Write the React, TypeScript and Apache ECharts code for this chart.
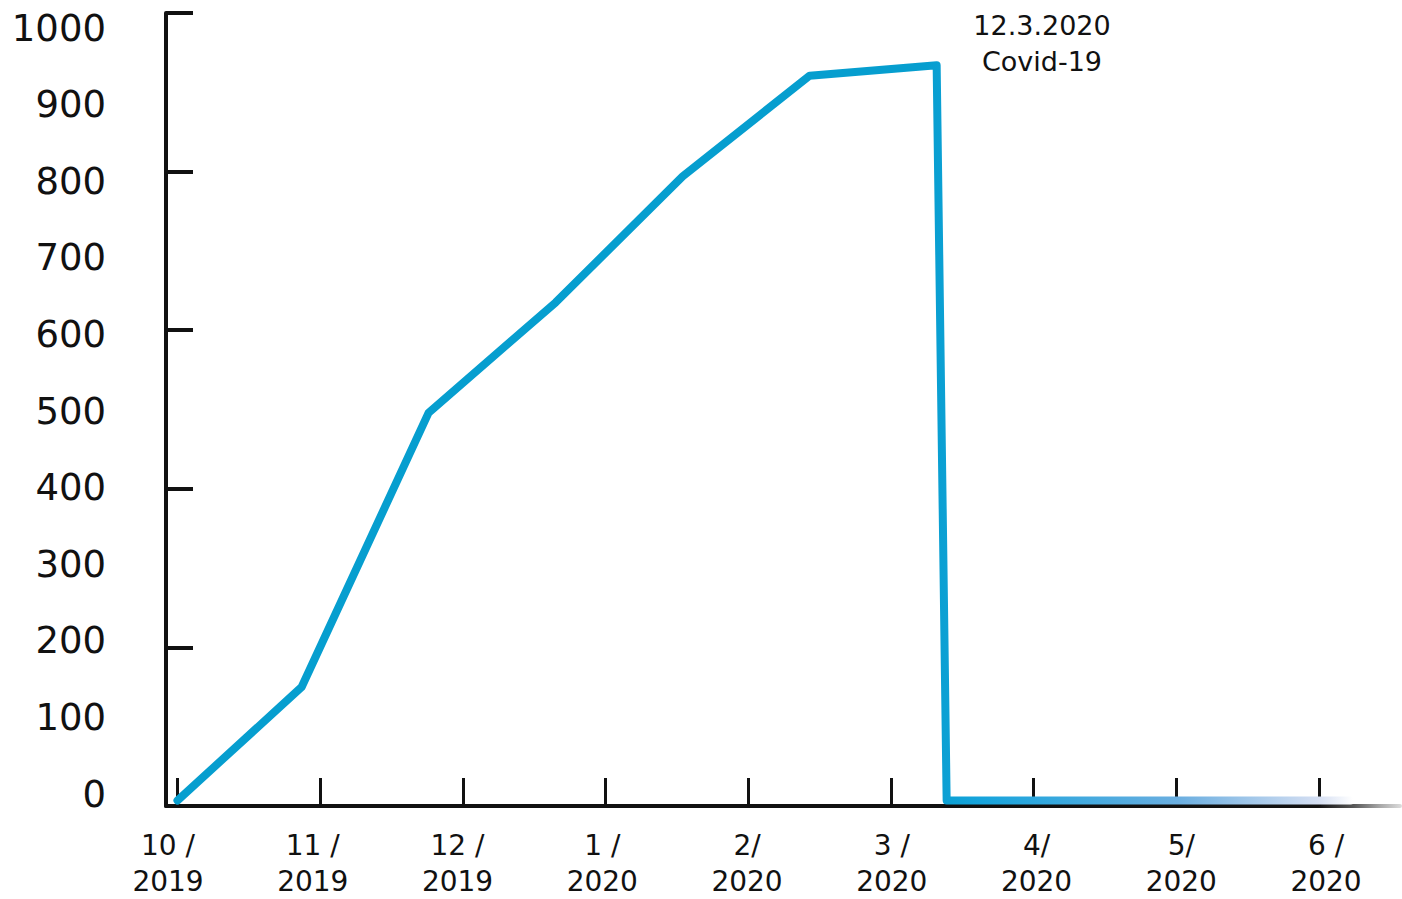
import React, { useEffect, useRef } from "react";
import * as echarts from "echarts";

// Month positions (0 = 10/2019) and counts
const monthPos = [0, 0.87, 1.76, 2.65, 3.54, 4.43, 5.32, 5.39, 8.22];
const counts = [7, 150, 496, 635, 794, 921, 934, 7, 7];

const monthLabels = ["10 /", "11 /", "12 /", "1 /", "2/", "3 /", "4/", "5/", "6 /"];
const yearLabels = ["2019", "2019", "2019", "2020", "2020", "2020", "2020", "2020", "2020"];
const yTickValues = [200, 400, 600, 800, 1000];
const monthTicks = [0, 1, 2, 3, 4, 5, 6, 7, 8];
const annotation = ["12.3.2020", "Covid-19"];

const FONT = "'DejaVu Sans', sans-serif";
const BLUE = "#069ecf";

export default function App() {
  const ref = useRef<HTMLDivElement>(null);

  useEffect(() => {
    if (!ref.current) return;
    const chart = echarts.init(ref.current, undefined, { renderer: "svg" });

    const lineGrad = new echarts.graphic.LinearGradient(
      0, 0, 1402, 0,
      [
        { offset: 0, color: BLUE },
        { offset: 0.66, color: BLUE },
        { offset: 0.7, color: "#17a4dc" },
        { offset: 0.84, color: "#6aaee0" },
        { offset: 0.94, color: "#d4def2" },
        { offset: 0.965, color: "#ffffff" },
        { offset: 1, color: "#ffffff" },
      ],
      true
    );
    const axisGrad = new echarts.graphic.LinearGradient(
      0, 0, 1402, 0,
      [
        { offset: 0, color: "#111111" },
        { offset: 0.94, color: "#111111" },
        { offset: 0.965, color: "#555555" },
        { offset: 0.985, color: "#aaaaaa" },
        { offset: 1, color: "#dddddd" },
      ],
      true
    );

    chart.setOption({
      animation: false,
      backgroundColor: "#ffffff",
      textStyle: { fontFamily: FONT },
      grid: [
        { left: 166, right: 2, top: 13, bottom: 93 },
        { left: 168, right: 76, top: 28, bottom: 99 },
      ],
      xAxis: [
        {
          type: "value",
          gridIndex: 0,
          min: -0.0806,
          max: 8.567,
          splitLine: { show: false },
          axisLine: { show: true, onZero: false, lineStyle: { color: axisGrad, width: 4 } },
          axisTick: {
            show: true,
            inside: true,
            length: 28,
            customValues: monthTicks,
            lineStyle: { color: "#111111", width: 3 },
          },
          axisLabel: { show: false },
        },
        {
          type: "value",
          gridIndex: 1,
          min: 0,
          max: 8,
          interval: 1,
          splitLine: { show: false },
          axisLine: { show: false, onZero: false },
          axisTick: { show: false },
          axisLabel: {
            show: true,
            margin: 33,
            fontSize: 28,
            lineHeight: 36,
            color: "#111111",
            fontFamily: FONT,
            formatter: (v: number) => {
              const i = Math.round(v);
              return monthLabels[i] + "\n" + yearLabels[i];
            },
          },
        },
      ],
      yAxis: [
        {
          type: "value",
          gridIndex: 0,
          min: 0,
          max: 1000,
          splitLine: { show: false },
          axisLine: { show: true, onZero: false, lineStyle: { color: "#111111", width: 4 } },
          axisTick: {
            show: true,
            inside: true,
            length: 27,
            customValues: yTickValues,
            lineStyle: { color: "#111111", width: 4 },
          },
          axisLabel: { show: false },
        },
        {
          type: "value",
          gridIndex: 1,
          min: 0,
          max: 1000,
          interval: 100,
          splitLine: { show: false },
          axisLine: { show: false, onZero: false },
          axisTick: { show: false },
          axisLabel: {
            show: true,
            margin: 62,
            fontSize: 37,
            color: "#111111",
            fontFamily: FONT,
            formatter: (v: number) => String(v),
          },
        },
      ],
      series: [
        {
          type: "line",
          xAxisIndex: 0,
          yAxisIndex: 0,
          data: monthPos.map((m, i) => [m, counts[i]]),
          symbol: "none",
          lineStyle: { color: lineGrad, width: 8, join: "round", cap: "round" },
          z: 5,
        },
      ],
      graphic: [
        {
          type: "text",
          x: 1042,
          y: 43,
          style: {
            text: annotation.join("\n"),
            fontSize: 27,
            lineHeight: 36,
            fontFamily: FONT,
            fill: "#111111",
            align: "center",
            verticalAlign: "middle",
          },
        },
      ],
    });

    return () => chart.dispose();
  }, []);

  return (
    <div
      ref={ref}
      style={{ position: "fixed", left: 0, top: 0, width: 1402, height: 899 }}
    />
  );
}
